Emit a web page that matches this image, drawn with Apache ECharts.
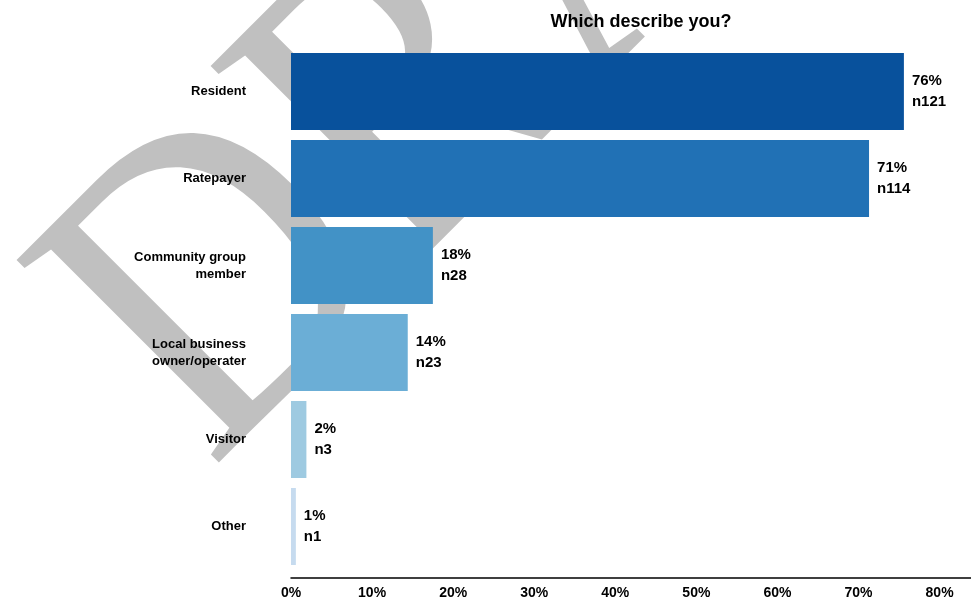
<!DOCTYPE html>
<html>
<head>
<meta charset="utf-8">
<script src="https://cdn.jsdelivr.net/npm/echarts@6/dist/echarts.min.js"></script>
<style>html,body{margin:0;padding:0;background:#fff;}#c{width:971px;height:602px;}</style>
</head>
<body>
<div id="c"></div>
<script>
const categories = ['Resident', 'Ratepayer', 'Community group\nmember', 'Local business\nowner/operater', 'Visitor', 'Other'];
const percentValues = [75.6, 71.3, 17.5, 14.4, 1.9, 0.6];
const percentLabels = ['76%', '71%', '18%', '14%', '2%', '1%'];
const counts = ['n121', 'n114', 'n28', 'n23', 'n3', 'n1'];
const barColors = ['#08519c', '#2171b5', '#4292c6', '#6baed6', '#9ecae1', '#c6dbef'];
const xTicks = [0, 10, 20, 30, 40, 50, 60, 70, 80];

const chart = echarts.init(document.getElementById('c'), null, {renderer: 'canvas'});
const font = 'Liberation Sans, Arial, sans-serif';
chart.setOption({
  animation: false,
  backgroundColor: '#fff',
  title: {
    text: 'Which describe you?',
    left: 636, top: 8, textAlign: 'center',
    textStyle: {fontFamily: font, fontWeight: 'bold', fontSize: 18, color: '#000'}
  },
  graphic: [{
    type: 'text', z: -10, silent: true,
    x: 130, y: 389, rotation: Math.PI / 4, scaleX: 1, scaleY: 1.15,
    style: {text: 'DRAFT', font: '380px "Liberation Serif", serif', fill: '#c0c0c0', verticalAlign: 'middle', align: 'left'}
  }],
  grid: {left: 291, top: 48, width: 681, height: 522, containLabel: false, outerBoundsMode: 'none'},
  xAxis: {
    type: 'value', min: 0, max: 84, interval: 10, offset: 8,
    axisLine: {show: true, lineStyle: {color: '#000', width: 1.5}},
    axisTick: {show: false},
    splitLine: {show: false},
    axisLabel: {
      margin: 8, color: '#000', fontFamily: font, fontWeight: 'bold', fontSize: 14,
      formatter: v => xTicks.indexOf(v) >= 0 ? v + '%' : ''
    }
  },
  yAxis: {
    type: 'category', data: categories, inverse: true,
    axisLine: {show: false}, axisTick: {show: false},
    axisLabel: {margin: 45, color: '#000', fontFamily: font, fontWeight: 'bold', fontSize: 13, lineHeight: 17, align: 'right'}
  },
  series: [{
    type: 'bar',
    barWidth: 77,
    data: percentValues.map((v, i) => ({value: v, itemStyle: {color: barColors[i]}})),
    label: {
      show: true, position: 'right', distance: 8,
      formatter: p => '{a|' + percentLabels[p.dataIndex] + '}\n{a|' + counts[p.dataIndex] + '}',
      rich: {a: {fontFamily: font, fontWeight: 'bold', fontSize: 15, color: '#000', lineHeight: 21}}
    }
  }]
});
</script>
</body>
</html>
